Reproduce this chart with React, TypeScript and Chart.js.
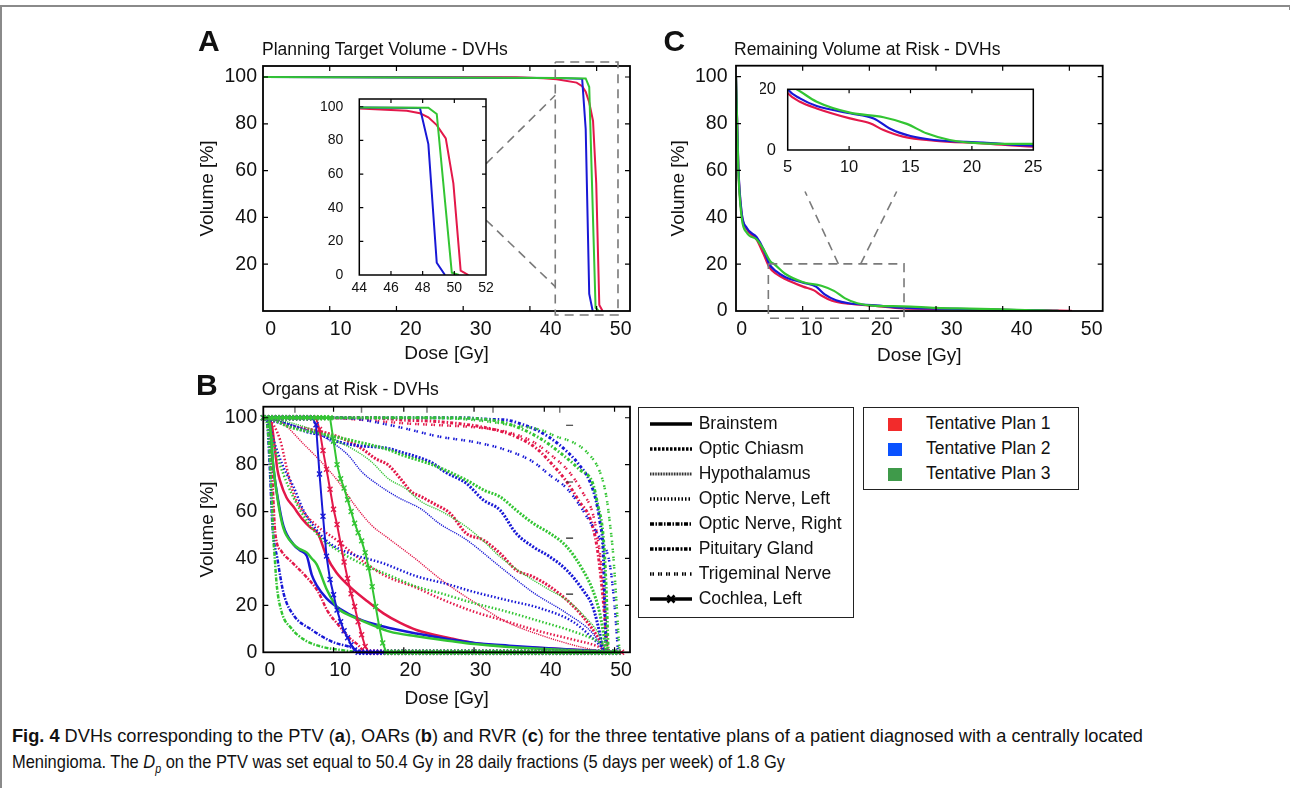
import React, { useEffect, useLayoutEffect, useRef } from "react";
import { Chart, registerables } from "chart.js";
Chart.register(...registerables);

const FONT = "'Liberation Sans', Arial, Helvetica, sans-serif";
const RED = "#e3184a";
const BLUE = "#1818d6";
const GREEN = "#33c533";
const LEG_RED = "#f22b2b";
const LEG_BLUE = "#0a52ff";
const LEG_GREEN = "#3f9a4a";

// ---------------- Panel A : PTV DVHs (dose Gy, volume %) ----------------
const PTV_RED = [[0,100],[38,99.9],[42,99.5],[44,99],[47,97.6],[47.83,96.1],[48.36,93.7],[48.89,89.1],[49.46,81.2],[49.94,54.5],[50.4,2.6],[50.89,0]];
const PTV_BLUE = [[0,100],[44,99.6],[47.83,99.2],[48.36,77.8],[48.89,7.3],[49.41,0]];
const PTV_GREEN = [[0,100],[44,99.6],[48.36,99.4],[48.89,95.7],[49.84,1.4],[50.3,0]];
const A_X_LABELS = [0,10,20,30,40,50];
const A_Y_LABELS = [20,40,60,80,100];
const A_TICKS = [10,20,30,40,50];
const AI_X_LABELS = [44,46,48,50,52];
const AI_Y_LABELS = [0,20,40,60,80,100];
const A_ZOOM_BOX = [[43.8,106.4],[53.2,106.4],[53.2,-1.7],[43.8,-1.7],[43.8,106.4]];
const A_ZOOM_LINE1 = [[33.45,63.0],[43.8,92.2]];
const A_ZOOM_LINE2 = [[33.45,38.8],[43.8,10.4]];

// ---------------- Panel C : RVR DVHs ----------------
const RVR_RED = [[0,100],[0.35,61],[0.85,41.5],[1.6,35],[3.1,30.5],[4.1,24.5],[5,18.7],[6,15.9],[7.36,13.7],[10.07,10.4],[11.7,8.8],[12.8,6.6],[14.4,4.4],[16.9,3.1],[20.9,2.2],[25,1.1],[30,0.9],[35,0.7],[40,0.5],[45,0.3],[50,0.1],[50.4,0]];
const RVR_BLUE = [[0,100],[0.35,62],[0.85,42],[1.6,35.5],[3.1,31.5],[4.1,26.5],[5,20],[6,17],[7.36,14.5],[10.07,12.1],[12,10.4],[13.3,7.1],[15,4.6],[16.9,3.3],[20.9,2.4],[25,1.4],[30,1.0],[35,0.8],[40,0.5],[45,0.3],[47.5,0.1],[48.5,0]];
const RVR_GREEN = [[0,100],[0.35,60],[0.85,40],[1.6,33.5],[3.1,30.5],[4.1,26.5],[5.2,21],[5.73,20],[7.36,15.9],[10.07,12.3],[12.8,10.8],[14.7,8.6],[16.3,5.5],[18.2,3.3],[20.9,2.2],[25,2.0],[30,1.3],[35,1.0],[40,0.7],[45,0.3],[47.5,0.1],[48.5,0]];
const C_X_LABELS = [0,10,20,30,40,50];
const C_Y_LABELS = [0,20,40,60,80,100];
const CI_X_LABELS = [5,10,15,20,25];
const CI_Y_LABELS = [0,20];
const C_ZOOM_BOX = [[4.85,20.1],[25.2,20.1],[25.2,-3.1],[4.85,-3.1],[4.85,20.1]];
const C_ZOOM_LINE1 = [[15.35,20.1],[10.35,51]];
const C_ZOOM_LINE2 = [[18.7,20.1],[24.1,51]];

// ---------------- Panel B : OAR DVHs ----------------
const BRAINSTEM_RED = [[0,100],[0.5,100],[1.2,97],[1.6,88],[2.0,78],[2.4,73],[3.3,66],[4.3,62],[5.5,57],[6.6,53.5],[7.8,50.5],[9.0,41],[10.4,34],[12.3,28],[14.7,22],[17.1,16.6],[19.5,12.5],[21.8,9.5],[26.6,6],[29.9,4],[34.6,2.6],[39.4,1.8],[44,1.1],[48,0.4],[49.8,0]];
const BRAINSTEM_BLUE = [[0,100],[0.5,100],[0.95,97],[1.4,80],[2.1,65],[2.85,54],[4.3,46],[5.2,43.5],[6.2,41],[6.9,33],[7.6,28.5],[9.0,23],[10.9,18.5],[13.75,14],[17.1,11],[21.8,8],[26.6,5.5],[30,4],[35,2.8],[40,1.8],[45,1],[48.5,0.3],[49.5,0]];
const BRAINSTEM_GREEN = [[0,100],[0.5,100],[0.95,97],[1.4,80],[2.1,64],[2.85,53],[4.3,46],[5.2,44],[6.2,42.5],[6.9,40],[7.6,37.5],[9.0,27],[10.2,20.5],[10.9,18],[13.3,14.5],[15.6,11.5],[18,8.8],[21.8,6.8],[26.6,4.8],[30,3.5],[35,2.3],[40,1.4],[45,0.7],[48.5,0.2],[49.5,0]];
const CHIASM_RED = [[0,100],[1,99.5],[3.6,96.8],[8.3,94],[11.2,91.2],[14,86.9],[15.9,82.7],[17.8,79.8],[19.5,74.1],[21.1,68.4],[22.5,66.3],[24.2,63.5],[26.6,59.2],[28.9,50.7],[31.3,47.9],[33.7,42.2],[36,35.1],[38.4,32.2],[40.8,28],[43.2,22.3],[45.5,15.2],[47.9,5],[48.7,0]];
const CHIASM_BLUE = [[0,100],[1,99],[3.6,97],[6.2,94],[8.3,92.6],[10.7,89.7],[13,88.3],[17.8,86.9],[19.4,85.5],[22.5,82.7],[24.2,80.5],[25.8,77],[28.9,72],[31.3,65],[33.7,60.6],[36,50.7],[38.4,45],[40.8,40.7],[43.2,35],[45.5,26.5],[46.9,19.4],[47.9,8],[48.4,0]];
const CHIASM_GREEN = [[0,100],[1,99.5],[3.8,96],[8.5,93],[13.3,89.8],[18,86.2],[19.4,84.5],[24.2,79.8],[28.9,73.4],[31.5,69],[33.7,66.3],[36,60.6],[38.4,55],[40.8,50.7],[43.2,45],[45.5,35],[46.9,26.5],[47.9,16.6],[48.6,5],[48.9,0]];
const HYPO_RED = [[0,100],[1,99.8],[2.6,98],[5.9,88.3],[8.3,81],[10.7,72.7],[13,62.8],[15.4,54.2],[17.8,48.6],[21.6,40],[25.3,31],[29.9,21.6],[34.6,13],[39.4,7.4],[44.1,3.1],[47,1],[48.5,0]];
const HYPO_BLUE = [[0,100],[3,98],[6,95],[8.5,92],[9.7,89.7],[12.1,84],[14,77],[16.4,71.3],[19.2,66],[22.5,61],[25,55],[28.9,48],[33.7,36.5],[38.4,25.5],[43.2,16.6],[46.9,8],[48.2,2],[48.6,0]];
const HYPO_GREEN = [[0,100],[3,98.5],[6,96],[8.5,93],[9.7,91.2],[13,86.2],[15.4,81.2],[17.8,74],[20.2,69.9],[22.5,64.2],[25.4,60],[28.9,53.5],[31.5,47],[33.7,40.7],[36,35.5],[38.4,30.8],[40.8,26.5],[43.2,22.3],[45.5,16],[47.9,7],[48.8,0]];
const ONL_RED = [[0,100],[0.7,99.5],[2.4,90.5],[3.3,79],[4.3,67.8],[5.7,60],[7.6,54],[10.4,47.9],[13.3,40.8],[17.1,33],[21.8,27.5],[25.1,23],[29.9,17.4],[34.6,13.2],[39.4,8.9],[44.1,5.4],[47.6,2.5],[49,0]];
const ONL_BLUE = [[0,100],[0.5,99.5],[1.5,90],[2.85,79],[4.3,70.6],[5.7,60.6],[7.6,52.1],[9.5,46.4],[12.3,42.2],[17.1,37.9],[21.8,32.4],[25.8,29.4],[29.9,25.8],[34.6,22.3],[39.4,18.8],[44.1,13],[46.9,6],[48.3,1.7],[48.8,0]];
const ONL_GREEN = [[0,100],[0.5,99.5],[1.5,88],[2.85,76],[4.3,66],[6.2,56],[8.1,49],[10.5,43.6],[13.9,37.9],[17.8,33],[21.8,28],[25.1,25.3],[29.9,21],[34.6,17.4],[39.4,13.2],[44.1,8.9],[47.6,4.7],[49,1.7],[49.3,0]];
const ONR_RED = [[0,100],[0.5,99],[1.2,79],[1.7,51],[2.6,43],[4,38.6],[5.9,32.9],[7.8,25.8],[9.2,17.3],[10.7,11.6],[12.1,6.6],[13.5,3.1],[14.4,0]];
const ONR_BLUE = [[0,100],[0.5,99],[0.9,80],[1.3,54],[2.0,40],[2.9,25],[4.4,15.5],[6.8,9.8],[9.8,4.5],[12.6,2],[14,0]];
const ONR_GREEN = [[0,100],[0.4,99],[0.9,85],[1.2,65],[1.4,50],[1.6,41.5],[1.9,29],[2.6,17.3],[4.0,10.2],[5.9,5.2],[8.3,2.4],[11,1],[13.5,0]];
const PIT_RED = [[0,100],[15,100],[20,99],[25.1,98.3],[32.2,95.4],[36,91.9],[38.9,86.9],[40.8,81.2],[43.2,72.7],[45,64.2],[46.5,57.1],[47.5,45],[48.3,25],[49,0]];
const PIT_BLUE = [[0,100],[28,100],[32.2,99.3],[34.6,99],[37,97],[39.4,94],[42.2,88.3],[45,79.8],[46.5,72.7],[47.4,64.2],[47.9,56],[48.4,42],[48.6,21],[48.8,0]];
const PIT_GREEN = [[0,100],[25,100],[29.9,99.7],[34.6,97.6],[39.4,91.2],[42.7,84],[45,78],[46.9,72],[47.6,63],[48.4,49],[48.8,28],[49.1,0]];
const TRI_RED = [[0,100],[8,100],[14.5,99],[20.2,97.6],[25.3,96.8],[29.9,96],[34.6,94],[38.4,89.7],[41,84],[43.5,77],[45.5,68],[47,58],[48,40],[48.6,20],[49,0]];
const TRI_BLUE = [[0,100],[8,100],[12.6,99.7],[16.8,97.6],[20.2,95.4],[25.1,91.9],[29.9,89.7],[34.6,86.2],[38.4,81.2],[40.8,75.5],[43.2,69.9],[45,62.8],[46.5,55.6],[48,48],[49.3,38],[50,20],[50.5,0]];
const TRI_GREEN = [[0,100],[20,100],[28,99.5],[32.2,98.3],[36,96.5],[39.3,95],[41.7,92],[44.1,89.5],[46,85.5],[47.9,77],[48.8,67],[49.3,56],[49.8,42],[50.3,20],[50.6,5],[50.7,0]];
const COCHLEA_DOSE = [0,0.5,1,1.5,2,2.5,3,3.5,4,4.5,5,5.5,6,6.5,7,7.5,8,8.5,9,9.5,10,10.5,11,11.5,12,12.5,13,13.5,14,14.5,15,15.5,16,16.5,17,17.5,18,18.5,19,19.5,20,20.5,21,21.5,22,22.5,23,23.5,24,24.5,25,25.5,26,26.5,27,27.5,28,28.5,29,29.5,30,30.5,31,31.5,32,32.5,33,33.5,34,34.5,35,35.5,36,36.5,37,37.5,38,38.5,39,39.5,40,40.5,41,41.5,42,42.5,43,43.5,44,44.5,45,45.5,46,46.5,47,47.5,48,48.5,49,49.5,50,50.5,51];
const COCHLEA_BLUE = [100,100,100,100,100,100,100,100,100,100,100,100,100,100,100,
  97,76,58,41,31,24.5,18,13,9.2,6.2,3.2,1,0,
  0,0,0,0,0,0,0,0,0,0,0,0,0,0,0,
  0,0,0,0,0,0,0,0,0,0,0,0,0,0,0,
  0,0,0,0,0,0,0,0,0,0,0,0,0,0,0,
  0,0,0,0,0,0,0,0,0,0,0,0,0,0,0,
  0,0,0,0,0,0,0,0,0,0,0,0,0,0];
const COCHLEA_RED = [100,100,100,100,100,100,100,100,100,100,100,100,100,100,100,100,
  95,86,78,69.5,61,54.5,46.5,38.5,31.5,25,19.5,13,7.5,2.5,0,
  0,0,0,0,0,0,0,0,0,0,0,0,0,0,0,0,0,0,
  0,0,0,0,0,0,0,0,0,0,0,0,0,0,0,0,0,0,
  0,0,0,0,0,0,0,0,0,0,0,0,0,0,0,0,0,0,
  0,0,0,0,0,0,0,0,0,0,0,0,0,0,0,0,0,0];
const COCHLEA_GREEN = [100,100,100,100,100,100,100,100,100,100,100,100,100,100,100,100,100,100,100,100,
  90,80,74,70,65,60,55,51,47.5,42.5,36,28,19.5,11,4,0,
  0,0,0,0,0,0,0,0,0,0,0,0,0,0,0,0,0,
  0,0,0,0,0,0,0,0,0,0,0,0,0,0,0,0,0,
  0,0,0,0,0,0,0,0,0,0,0,0,0,0,0,0,0,
  0,0,0,0,0,0,0,0,0,0,0,0,0,0,0];
const B_X_LABELS = [0,10,20,30,40,50];
const B_Y_LABELS = [0,20,40,60,80,100];
const B_TICKS = [10,20,30,40,50];
const B_EXTRA_TOP_TICKS = [4.5,13.98,23.3,32.7,42.2];
const B_STRAY_MARKS = [[43.6,96.8],[43.6,72.6],[43.6,48.7],[43.6,24.8]];
const Y_TICKS = [20,40,60,80,100];

const ORGANS = [
  { name: "Brainstem", width: 2.5, dash: [] as number[], legW: 3.5, legDash: "" },
  { name: "Optic Chiasm", width: 3, dash: [2, 1.5], legW: 3.5, legDash: "2.5 1.5" },
  { name: "Hypothalamus", width: 1.4, dash: [1.2, 1], legW: 3, legDash: "0.8 0.8" },
  { name: "Optic Nerve, Left", width: 2.5, dash: [1.5, 2], legW: 3.5, legDash: "1.5 2" },
  { name: "Optic Nerve, Right", width: 2.5, dash: [4, 1.5, 1.5, 1.5], legW: 3.5, legDash: "4 1.5 1.5 1.5" },
  { name: "Pituitary Gland", width: 3, dash: [3, 2, 1.5, 2], legW: 3.5, legDash: "3.5 1.5 2 1.5" },
  { name: "Trigeminal Nerve", width: 2.5, dash: [1.5, 1, 1.5, 4], legW: 3.5, legDash: "1.5 1 1.5 4" },
  { name: "Cochlea, Left", width: 2, dash: [] as number[], legW: 3.5, legDash: "", marker: true },
];
const PLANS = ["Tentative Plan 1", "Tentative Plan 2", "Tentative Plan 3"];

function pts(a: number[][]) { return a.map(([x, y]) => ({ x, y })); }
function grid(d: number[], v: number[]) { return v.map((y, i) => ({ x: d[i], y })); }

function line(data: any[], color: string, width: number, dash: number[], smooth: boolean) {
  return {
    data, borderColor: color, backgroundColor: color, borderWidth: width, borderDash: dash,
    pointRadius: 0, fill: false, tension: 0,
    cubicInterpolationMode: smooth ? "monotone" : "default",
    xAxisID: "x", yAxisID: "y",
  };
}

type FrameSpec = {
  xTicks: number[]; yTicks: number[]; tickLen: number; frameW: number; white?: boolean;
  dashed?: number[][][]; extraTop?: number[]; stray?: number[][];
};

function framePlugin(spec: FrameSpec) {
  return {
    id: "frame",
    beforeDatasetsDraw(chart: any) {
      if (!spec.white) return;
      const { ctx, chartArea: a } = chart;
      ctx.save(); ctx.fillStyle = "#fff";
      ctx.fillRect(a.left, a.top, a.right - a.left, a.bottom - a.top);
      ctx.restore();
    },
    afterDatasetsDraw(chart: any) {
      const { ctx, chartArea: a, scales } = chart;
      const sx = scales.x, sy = scales.y;
      const L = spec.tickLen;
      ctx.save();
      ctx.strokeStyle = "#000"; ctx.lineWidth = 1.2; ctx.setLineDash([]);
      ctx.beginPath();
      for (const v of spec.xTicks) {
        const p = sx.getPixelForValue(v);
        ctx.moveTo(p, a.bottom); ctx.lineTo(p, a.bottom - L);
        ctx.moveTo(p, a.top); ctx.lineTo(p, a.top + L);
      }
      for (const v of spec.yTicks) {
        const p = sy.getPixelForValue(v);
        ctx.moveTo(a.left, p); ctx.lineTo(a.left + L, p);
        ctx.moveTo(a.right, p); ctx.lineTo(a.right - L, p);
      }
      ctx.stroke();
      if (spec.extraTop) {
        ctx.strokeStyle = "#777"; ctx.lineWidth = 1.5; ctx.beginPath();
        for (const v of spec.extraTop) {
          const p = sx.getPixelForValue(v);
          ctx.moveTo(p, a.top); ctx.lineTo(p, a.top + L + 1);
        }
        ctx.stroke();
      }
      if (spec.stray) {
        ctx.strokeStyle = "#222"; ctx.lineWidth = 1.2; ctx.beginPath();
        for (const [x, y] of spec.stray) {
          const px = sx.getPixelForValue(x), py = sy.getPixelForValue(y);
          ctx.moveTo(px - 3.5, py); ctx.lineTo(px + 3.5, py);
        }
        ctx.stroke();
      }
      ctx.strokeStyle = "#000"; ctx.lineWidth = spec.frameW;
      ctx.strokeRect(a.left, a.top, a.right - a.left, a.bottom - a.top);
      if (spec.dashed) {
        ctx.strokeStyle = "#7a7a7a"; ctx.lineWidth = 1.6; ctx.setLineDash([9, 6]);
        for (const poly of spec.dashed) {
          ctx.beginPath();
          poly.forEach(([x, y], i) => {
            const px = sx.getPixelForValue(x), py = sy.getPixelForValue(y);
            if (i === 0) ctx.moveTo(px, py); else ctx.lineTo(px, py);
          });
          ctx.stroke();
        }
      }
      ctx.restore();
    },
  };
}

type PanelSpec = {
  w: number; h: number; area: [number, number, number, number];
  x: [number, number]; xl: [number, number]; y: [number, number];
  xLabels: number[]; yLabels: number[];
  font: number; xPad: number; yPad: number;
  xTitle?: string; yTitle?: string; xTitlePad?: number; yTitlePad?: number;
  datasets: any[]; frame: FrameSpec;
};

function makeConfig(p: PanelSpec): any {
  const [L, T, R, B] = p.area;
  const tickFont = { family: FONT, size: p.font };
  const titleFont = { family: FONT, size: 19 };
  return {
    type: "line",
    data: { datasets: p.datasets },
    options: {
      animation: false, responsive: false, maintainAspectRatio: false, events: [],
      layout: { padding: { left: 0, top: T, right: p.w - R, bottom: 0 } },
      scales: {
        x: { type: "linear", display: false, min: p.x[0], max: p.x[1] },
        xl: {
          type: "linear", position: "bottom", min: p.xl[0], max: p.xl[1],
          afterBuildTicks: (s: any) => { s.ticks = p.xLabels.map((v) => ({ value: v })); },
          afterFit: (s: any) => { s.height = p.h - B; },
          grid: { display: false, drawTicks: false }, border: { display: false },
          ticks: { autoSkip: false, maxRotation: 0, minRotation: 0, padding: p.xPad, color: "#111", font: tickFont },
          title: p.xTitle
            ? { display: true, text: p.xTitle, color: "#111", font: titleFont, padding: { top: 0, bottom: p.xTitlePad || 0 } }
            : { display: false },
        },
        y: {
          type: "linear", position: "left", min: p.y[0], max: p.y[1],
          afterBuildTicks: (s: any) => { s.ticks = p.yLabels.map((v) => ({ value: v })); },
          afterFit: (s: any) => { s.width = L; },
          grid: { display: false, drawTicks: false }, border: { display: false },
          ticks: { autoSkip: false, padding: p.yPad, color: "#111", font: tickFont },
          title: p.yTitle
            ? { display: true, text: p.yTitle, color: "#111", font: titleFont, padding: { top: p.yTitlePad || 0, bottom: 0 } }
            : { display: false },
        },
      },
      plugins: { legend: { display: false }, tooltip: { enabled: false }, title: { display: false } },
    },
    plugins: [framePlugin(p.frame)],
  };
}

function ChartCanvas({ spec, left, top }: { spec: PanelSpec; left: number; top: number }) {
  const ref = useRef<HTMLCanvasElement>(null);
  useEffect(() => {
    const c = new Chart(ref.current as HTMLCanvasElement, makeConfig(spec));
    return () => c.destroy();
  }, []);
  return (
    <canvas ref={ref} width={spec.w} height={spec.h}
      style={{ position: "absolute", left, top, width: spec.w, height: spec.h }} />
  );
}

function ptvSets() {
  return [
    line(pts(PTV_GREEN), GREEN, 2, [], false),
    line(pts(PTV_BLUE), BLUE, 2, [], false),
    line(pts(PTV_RED), RED, 2, [], false),
  ];
}
function rvrSets() {
  return [
    line(pts(RVR_GREEN), GREEN, 2.2, [], true),
    line(pts(RVR_BLUE), BLUE, 2.2, [], true),
    line(pts(RVR_RED), RED, 2.2, [], true),
  ];
}
function oarSets() {
  const groups: [number, number[][][]][] = [
    [0, [BRAINSTEM_RED, BRAINSTEM_BLUE, BRAINSTEM_GREEN]],
    [1, [CHIASM_RED, CHIASM_BLUE, CHIASM_GREEN]],
    [2, [HYPO_RED, HYPO_BLUE, HYPO_GREEN]],
    [3, [ONL_RED, ONL_BLUE, ONL_GREEN]],
    [4, [ONR_RED, ONR_BLUE, ONR_GREEN]],
    [5, [PIT_RED, PIT_BLUE, PIT_GREEN]],
    [6, [TRI_RED, TRI_BLUE, TRI_GREEN]],
  ];
  const colors = [RED, BLUE, GREEN];
  const drawOrder: any[] = [];
  for (let c = 0; c < 3; c++) {
    for (const [o, arrs] of groups) {
      const org = ORGANS[o];
      drawOrder.push(line(pts(arrs[c]), colors[c], org.width, org.dash, true));
    }
  }
  const coch = [COCHLEA_RED, COCHLEA_BLUE, COCHLEA_GREEN];
  for (let c = 0; c < 3; c++) {
    const d: any = line(grid(COCHLEA_DOSE, coch[c]), colors[c], 2, [], false);
    d.pointStyle = "crossRot"; d.pointRadius = 3.5; d.pointBorderWidth = 1.4;
    d.pointBorderColor = colors[c]; d.clip = 8;
    drawOrder.push(d);
  }
  return drawOrder.reverse();
}

const SPEC_A: PanelSpec = {
  w: 460, h: 355, area: [83, 46, 450, 291], x: [0, 55], xl: [-1.1, 51.33], y: [0, 104.7],
  xLabels: A_X_LABELS, yLabels: A_Y_LABELS, font: 19.5, xPad: 6.5, yPad: 6,
  xTitle: "Dose [Gy]", yTitle: "Volume [%]", xTitlePad: 10, yTitlePad: 16.6,
  datasets: ptvSets(),
  frame: { xTicks: A_TICKS, yTicks: Y_TICKS, tickLen: 5, frameW: 1.8, dashed: [A_ZOOM_BOX, A_ZOOM_LINE1, A_ZOOM_LINE2] },
};
const SPEC_AI: PanelSpec = {
  w: 200, h: 240, area: [54.3, 29, 181, 205], x: [44, 52], xl: [44, 52], y: [0, 104.6],
  xLabels: AI_X_LABELS, yLabels: AI_Y_LABELS, font: 14, xPad: 5.2, yPad: 16,
  datasets: ptvSets(),
  frame: { xTicks: [46, 48, 50], yTicks: Y_TICKS, tickLen: 4, frameW: 1.5, white: true },
};
const SPEC_C: PanelSpec = {
  w: 470, h: 355, area: [86, 45.7, 452.7, 291], x: [0, 55], xl: [-0.81, 51.57], y: [0, 104.7],
  xLabels: C_X_LABELS, yLabels: C_Y_LABELS, font: 19.5, xPad: 6.5, yPad: 8.5,
  xTitle: "Dose [Gy]", yTitle: "Volume [%]", xTitlePad: 8, yTitlePad: 17.6,
  datasets: rvrSets(),
  frame: { xTicks: A_TICKS, yTicks: Y_TICKS, tickLen: 5, frameW: 1.8, dashed: [C_ZOOM_BOX, C_ZOOM_LINE1, C_ZOOM_LINE2] },
};
const SPEC_CI: PanelSpec = {
  w: 300, h: 120, area: [27.7, 29.3, 273.3, 90], x: [5, 25], xl: [5, 25], y: [0, 20],
  xLabels: CI_X_LABELS, yLabels: CI_Y_LABELS, font: 16.5, xPad: 8, yPad: 11.7,
  datasets: rvrSets(),
  frame: { xTicks: [10, 15, 20], yTicks: [], tickLen: 4, frameW: 1.5, white: true },
};
const SPEC_B: PanelSpec = {
  w: 460, h: 350, area: [83.3, 41.7, 450, 287.3], x: [0, 52.2], xl: [-0.95, 51.28], y: [0, 104.7],
  xLabels: B_X_LABELS, yLabels: B_Y_LABELS, font: 19.5, xPad: 6.5, yPad: 6,
  xTitle: "Dose [Gy]", yTitle: "Volume [%]", xTitlePad: 5.3, yTitlePad: 16.6,
  datasets: oarSets(),
  frame: { xTicks: B_TICKS, yTicks: Y_TICKS, tickLen: 5, frameW: 1.8, extraTop: B_EXTRA_TOP_TICKS, stray: B_STRAY_MARKS },
};

function FitLine({ target, left, top, children }: { target: number; left: number; top: number; children: any }) {
  const ref = useRef<HTMLSpanElement>(null);
  useLayoutEffect(() => {
    const el = ref.current as HTMLSpanElement;
    el.style.transform = "none";
    const w = el.getBoundingClientRect().width;
    if (w > 0) el.style.transform = `scaleX(${target / w})`;
  }, []);
  return (
    <span ref={ref} style={{
      position: "absolute", left, top, whiteSpace: "nowrap", display: "inline-block",
      transformOrigin: "0 0", fontFamily: "'Liberation Sans Narrow', 'Liberation Sans', Arial, sans-serif",
      fontSize: 18.5, lineHeight: "19px", color: "#111",
    }}>{children}</span>
  );
}

const txt = (left: number, top: number, size: number, bold = false): React.CSSProperties => ({
  position: "absolute", left, top, fontFamily: FONT, fontSize: size, lineHeight: `${size}px`,
  fontWeight: bold ? 700 : 400, color: "#111", whiteSpace: "nowrap",
});

export default function App() {
  const legRows = [424, 449, 474, 499, 524, 549, 574, 599];
  const planColors = [LEG_RED, LEG_BLUE, LEG_GREEN];
  return (
    <div style={{ position: "absolute", left: 0, top: 0, width: 1292, height: 788, overflow: "hidden", background: "#fff" }}>
      {/* figure frame */}
      <div style={{ position: "absolute", left: 0, top: 4.5, width: 1290, height: 2, background: "#8a8a8a" }} />
      <div style={{ position: "absolute", left: 0, top: 4.5, width: 2, height: 784, background: "#8a8a8a" }} />
      <div style={{ position: "absolute", left: 1288.5, top: 4.5, width: 1.5, height: 5, background: "#8a8a8a" }} />

      <ChartCanvas spec={SPEC_A} left={180} top={20} />
      <ChartCanvas spec={SPEC_AI} left={305} top={70} />
      <ChartCanvas spec={SPEC_C} left={650} top={20} />
      <ChartCanvas spec={SPEC_CI} left={760} top={60} />
      <ChartCanvas spec={SPEC_B} left={180} top={365} />

      <div style={txt(198, 26.3, 30, true)}>A</div>
      <div style={txt(663.5, 26.3, 30, true)}>C</div>
      <div style={txt(196, 369.6, 30, true)}>B</div>
      <div style={txt(262, 41.2, 17.5)}>Planning Target Volume - DVHs</div>
      <div style={txt(734, 41.2, 17.5)}>Remaining Volume at Risk - DVHs</div>
      <div style={txt(261.8, 381.2, 17.5)}>Organs at Risk - DVHs</div>

      {/* organ legend */}
      <div style={{ position: "absolute", left: 638.3, top: 407.3, width: 216, height: 211, border: "1.5px solid #222", boxSizing: "border-box" }} />
      {ORGANS.map((o, i) => (
        <React.Fragment key={o.name}>
          <svg width={44} height={14} style={{ position: "absolute", left: 649, top: legRows[i] - 7 }}>
            <line x1={1} y1={7} x2={43} y2={7} stroke="#000" strokeWidth={o.legW} strokeDasharray={o.legDash || undefined} />
            {o.marker ? <path d="M18.5,3.5 L25.5,10.5 M25.5,3.5 L18.5,10.5" stroke="#000" strokeWidth={2.6} /> : null}
          </svg>
          <div style={txt(698.7, legRows[i] - 8.6, 17.5)}>{o.name}</div>
        </React.Fragment>
      ))}

      {/* plan legend */}
      <div style={{ position: "absolute", left: 863.3, top: 407.3, width: 216, height: 83, border: "1.5px solid #222", boxSizing: "border-box" }} />
      {PLANS.map((p, i) => (
        <React.Fragment key={p}>
          <div style={{ position: "absolute", left: 888.3, top: legRows[i] - 6.5, width: 13.4, height: 13.4, background: planColors[i] }} />
          <div style={txt(926, legRows[i] - 8.6, 17.5)}>{p}</div>
        </React.Fragment>
      ))}

      {/* caption */}
      <FitLine target={1131} left={12} top={726}>
        <b>Fig. 4</b> DVHs corresponding to the PTV (<b>a</b>), OARs (<b>b</b>) and RVR (<b>c</b>) for the three tentative plans of a patient diagnosed with a centrally located
      </FitLine>
      <FitLine target={773} left={12} top={752}>
        Meningioma. The <i>D</i><sub style={{ fontSize: 12, lineHeight: 0, fontStyle: "italic" }}>p</sub> on the PTV was set equal to 50.4 Gy in 28 daily fractions (5 days per week) of 1.8 Gy
      </FitLine>
    </div>
  );
}
